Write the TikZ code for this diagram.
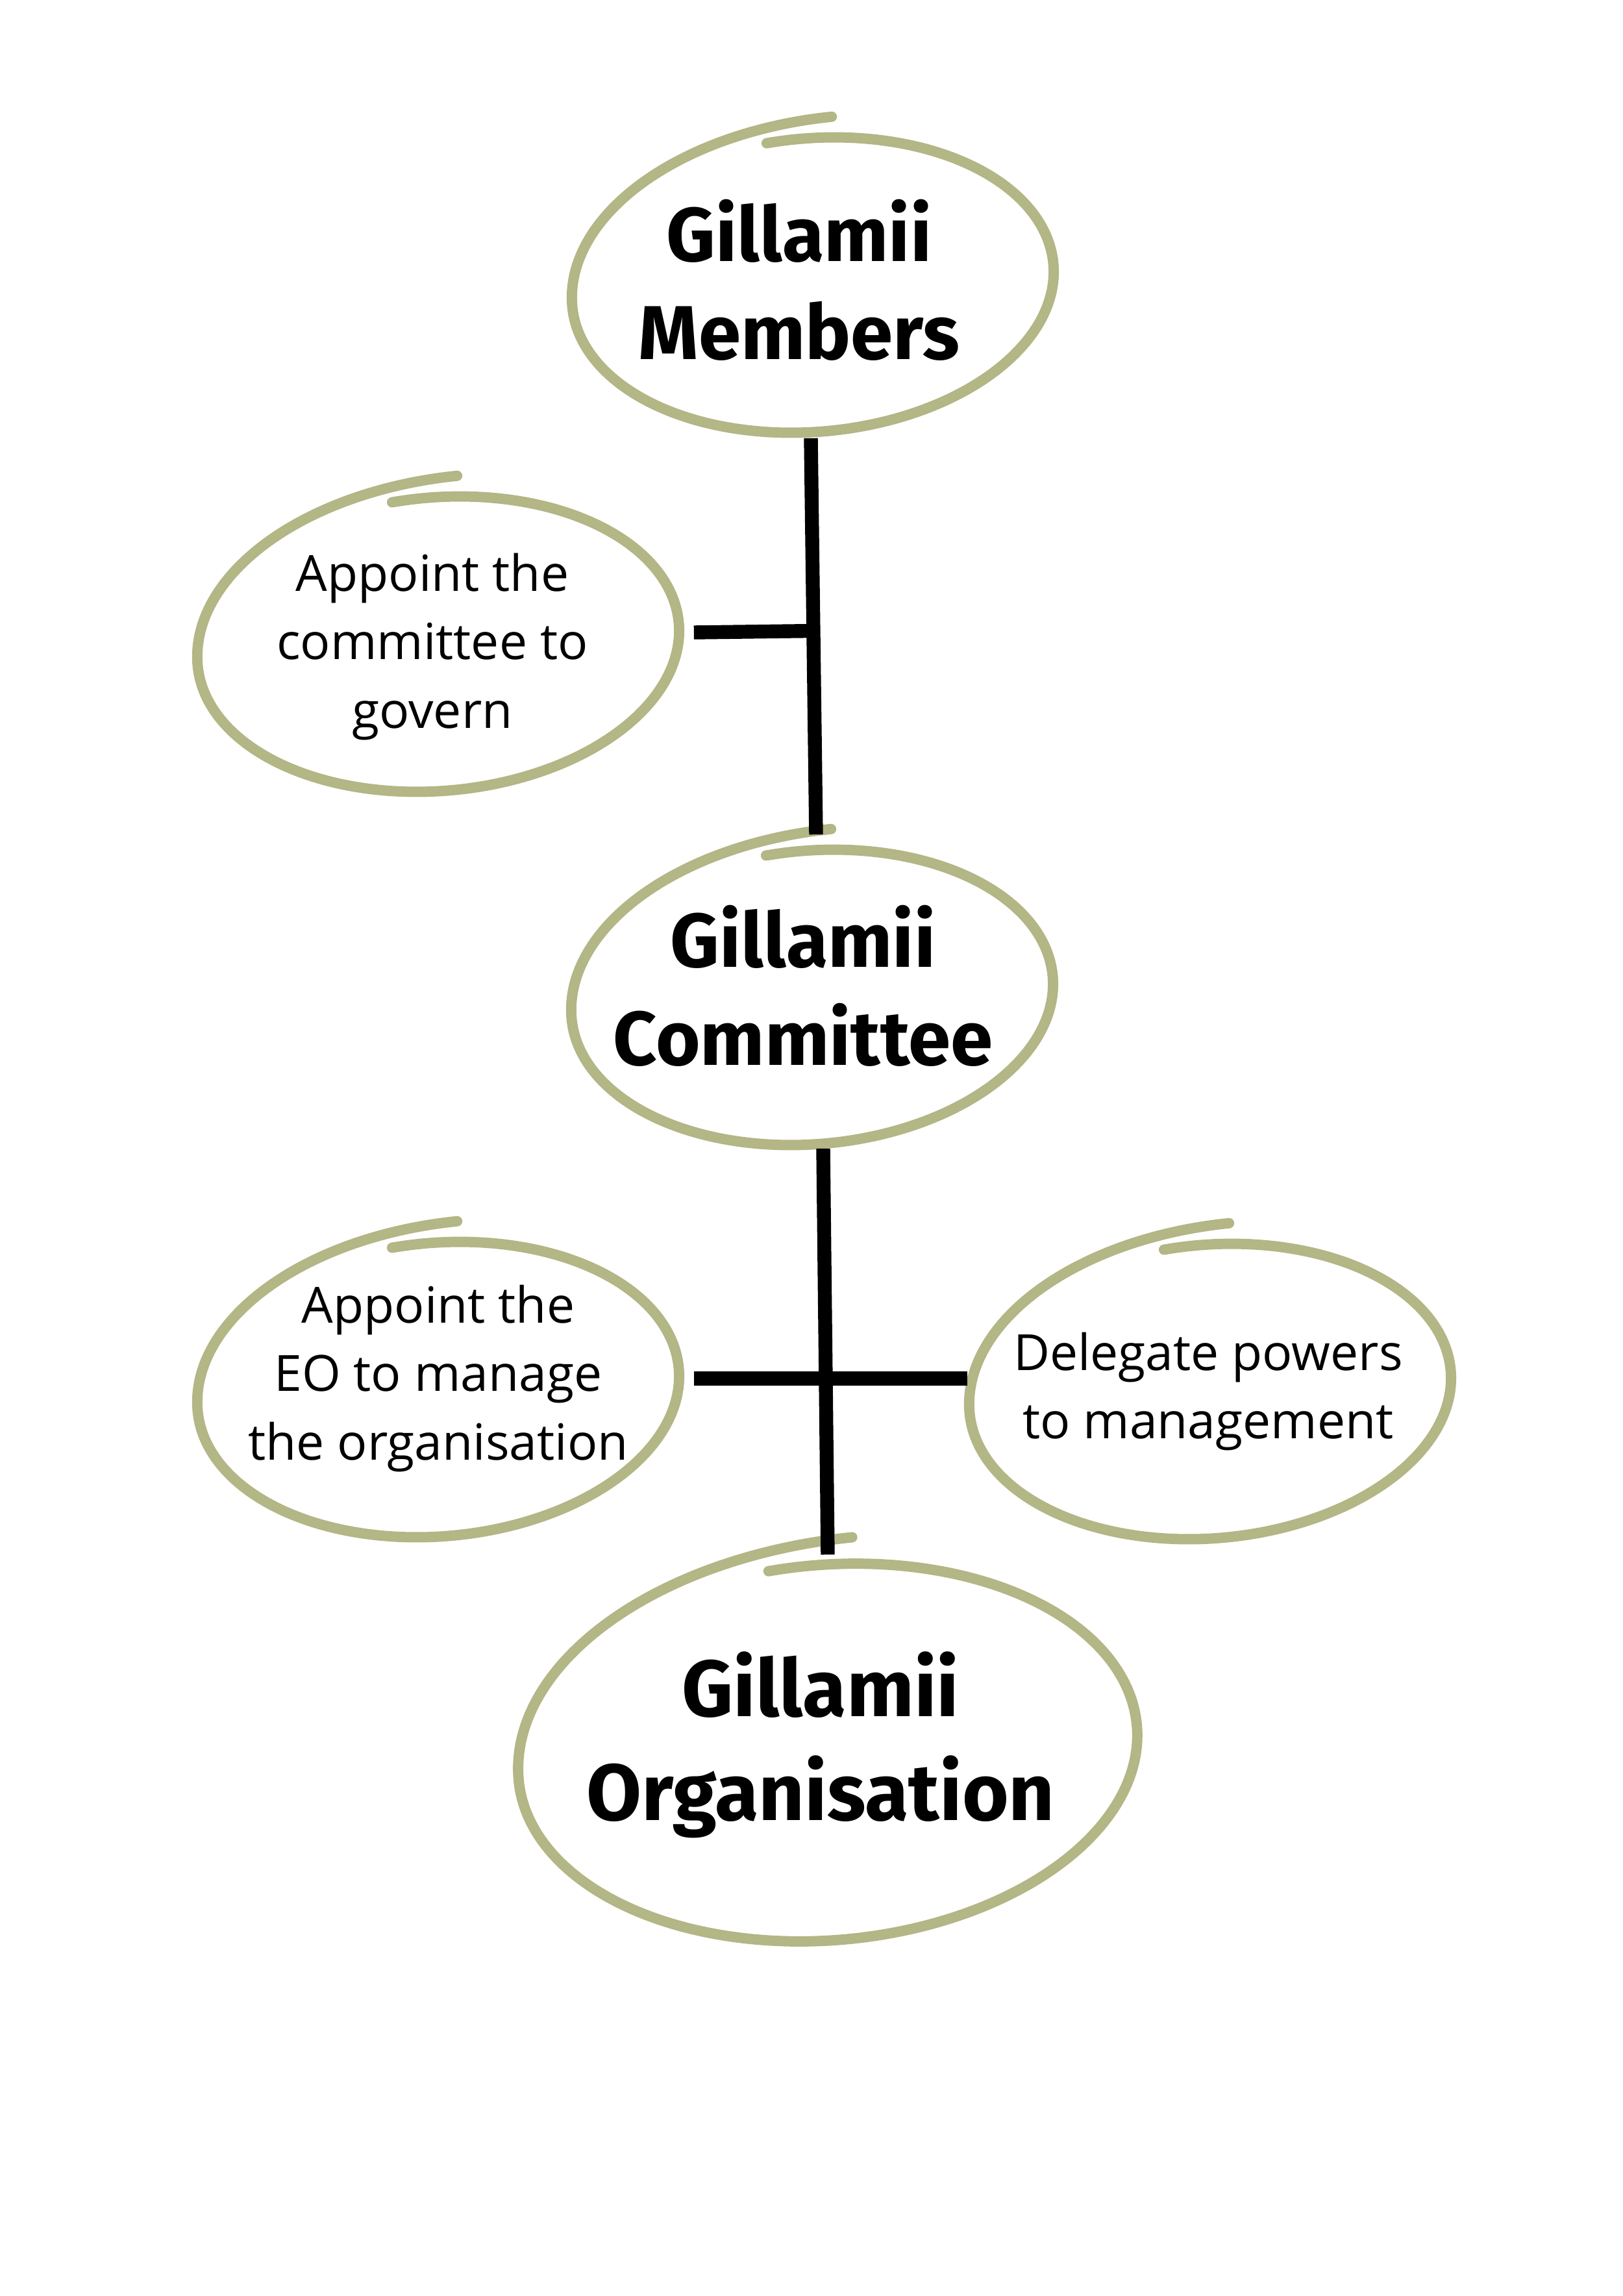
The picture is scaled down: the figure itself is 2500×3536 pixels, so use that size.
\documentclass[tikz,border=0pt]{standalone}
\usepackage{fontspec}
\setmainfont{Open Sans}
\newfontfamily\titlefont{Fira Sans}
\usetikzlibrary{calc}
\definecolor{olive}{RGB}{179,182,133}
% #1 node, #2 rx, #3 ry, #4 dx, #5 dy (ring centre relative to node centre)
\newcommand{\brushring}[5]{%
  \begin{scope}[shift={($(#1.center)+(#4,#5)$)}, rotate=5]
    \draw[ringstroke] plot[domain=-98:277, samples=150, smooth]
      ({#2*(1+0.14*(max(0,(\x-180)/97))^2)*cos(\x)},
       {#3*(1+0.14*(max(0,(\x-180)/97))^2)*sin(\x)});
  \end{scope}}
\begin{document}
\begin{tikzpicture}[x=0.2381pt, y=-0.2381pt,
  ringstroke/.style={draw=olive, line width=3.8pt, line cap=round, line join=round},
  bubble/.style={shape=rectangle, inner sep=0pt, align=center, minimum height={450*0.2381pt}},
  conn/.style={draw=black, line width=5.1pt},
  smalltext/.style={font=\fontsize{18.3pt}{25.2pt}\selectfont},
  bigtext/.style={font=\titlefont\bfseries\fontsize{28pt}{36pt}\selectfont},
  hugetext/.style={font=\titlefont\bfseries\fontsize{29.3pt}{38pt}\selectfont}]
\useasboundingbox[fill=white] (0,0) rectangle (2500,3536);

\node[bubble, bigtext, minimum width={746*0.2381pt}] (m) at (1231,431) {Gillamii\\Members};
\node[bubble, smalltext, minimum width={804*0.2381pt}] (a1) at (666,996) {Appoint the\\committee to\\govern};
\node[bubble, bigtext, minimum width={746*0.2381pt}] (c) at (1237,1518) {Gillamii\\Committee};
\node[bubble, smalltext, minimum width={786*0.2381pt}] (eo) at (675,2123) {Appoint the\\EO to manage\\the organisation};
\node[bubble, smalltext, minimum width={740*0.2381pt}] (d) at (1861,2143) {Delegate powers\\to management};
\node[bubble, hugetext, minimum width={956*0.2381pt}, minimum height={584*0.2381pt}] (o) at (1264,2687) {Gillamii\\Organisation};

\brushring{m}{372}{226}{21}{8}
\brushring{a1}{372}{226}{9}{-4}
\brushring{c}{372}{226}{14}{18}
\brushring{eo}{372}{226}{0}{17}
\brushring{d}{372}{226}{3}{0}
\brushring{o}{478}{289}{11}{12}

\coordinate (top1) at ($(m.south)+(18,18)$);
\coordinate (bot1) at ($(c.north)+(20,-7)$);
\coordinate (bar1) at ($(a1.east)+(0,-22)$);
\draw[conn] (top1) -- (bot1);
\draw[conn] (bar1) -- ($(top1)!(bar1)!(bot1)$);
\draw[conn] ($(c.south)+(31,25)$) -- ($(o.north)+(11,0)$);
\draw[conn] (eo.east) -- (eo.east -| d.west);
\end{tikzpicture}
\end{document}
